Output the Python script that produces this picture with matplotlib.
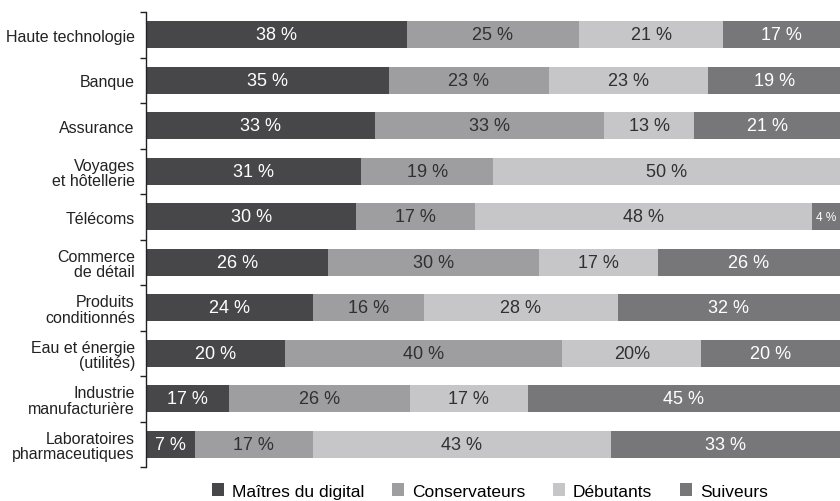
import numpy as np
import matplotlib
matplotlib.use('Agg')
import matplotlib.pyplot as plt
from matplotlib.patches import Patch

plt.rcParams['font.family'] = ['Liberation Sans', 'DejaVu Sans']

categories = ['Haute technologie', 'Banque', 'Assurance', 'Voyages\net hôtellerie',
              'Télécoms', 'Commerce\nde détail', 'Produits\nconditionnés',
              'Eau et énergie\n(utilités)', 'Industrie\nmanufacturière',
              'Laboratoires\npharmaceutiques']
series = ['Maîtres du digital', 'Conservateurs', 'Débutants', 'Suiveurs']
maitres = [38, 35, 33, 31, 30, 26, 24, 20, 12, 7]
conservateurs = [25, 23, 33, 19, 17, 30, 16, 40, 26, 17]
debutants = [21, 23, 13, 50, 48, 17, 28, 20, 17, 43]
suiveurs = [17, 19, 21, 0, 4, 26, 32, 20, 45, 33]
# labels that differ from the drawn value in the source chart
label_override = {(7, 2): '20%', (8, 0): '17 %'}

colors = ['#47474a', '#9e9ea1', '#c6c6c8', '#77777a']
text_colors = ['white', '#303030', '#303030', 'white']

data = np.array([maitres, conservateurs, debutants, suiveurs], dtype=float)
shares = data / data.sum(axis=0) * 100

fig = plt.figure(figsize=(8.4, 5.02), dpi=100)
ax = fig.add_axes([146 / 840, 1 - 468 / 502, 1 - 146 / 840, 455 / 502])

y = np.arange(len(categories))
left = np.zeros(len(categories))
for s in range(len(series)):
    ax.barh(y, shares[s], left=left, height=0.6, color=colors[s], linewidth=0)
    for i in range(len(categories)):
        v = data[s, i]
        if v == 0:
            continue
        txt = label_override.get((i, s), f'{int(v)} %')
        size = 8.5 if v < 5 else 13
        ax.text(left[i] + shares[s, i] / 2, y[i], txt, ha='center', va='center',
                fontsize=size, color=text_colors[s])
    left += shares[s]

ax.set_xlim(0, 100)
ax.set_ylim(len(categories) - 0.5, -0.5)
ax.set_xticks([])
ax.set_yticks(y)
ax.set_yticklabels(categories, fontsize=11.5, color='#222222', linespacing=1.05)
ax.tick_params(axis='y', length=0, pad=8)
ax.set_yticks(np.arange(len(categories) + 1) - 0.5, minor=True)
ax.tick_params(axis='y', which='minor', length=4, width=1, color='#222222')
for side in ['top', 'right', 'bottom']:
    ax.spines[side].set_visible(False)
ax.spines['left'].set_color('#222222')
ax.spines['left'].set_linewidth(1)

handles = [Patch(facecolor=c, edgecolor='none') for c in colors]
fig.legend(handles, series, loc='center', bbox_to_anchor=(490 / 840, 1 - 492 / 502),
           ncol=4, frameon=False, fontsize=12.5, handlelength=0.7, handleheight=0.7,
           handletextpad=0.45, columnspacing=1.6)

fig.savefig('out.png', dpi=100)
